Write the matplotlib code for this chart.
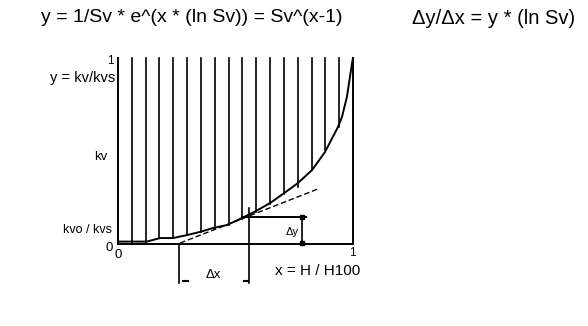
import numpy as np
import matplotlib
matplotlib.use("Agg")
import matplotlib.pyplot as plt

plt.rcParams['font.family'] = ['Liberation Sans', 'DejaVu Sans']

# Curve y = Sv^(x-1) as drawn
curve_x = [0.0, 0.123, 0.179, 0.234, 0.294, 0.349, 0.404, 0.464, 0.528, 0.587,
           0.647, 0.702, 0.766, 0.826, 0.881, 0.936, 0.953, 0.974, 0.996, 1.0]
curve_y = [0.013, 0.013, 0.032, 0.032, 0.048, 0.065, 0.086, 0.102, 0.140, 0.177,
           0.220, 0.269, 0.328, 0.398, 0.495, 0.629, 0.683, 0.790, 0.973, 1.0]

# Hatch lines (vertical) from the curve up to y = 1
hatch_x = [i / 17 for i in range(1, 17)]
hatch_y0 = [0.013, 0.013, 0.032, 0.032, 0.048, 0.065, 0.086, 0.102, 0.137, 0.172,
            0.215, 0.269, 0.306, 0.398, 0.505, 0.629]

# Tangent (dashed)
tangent_x = [0.264, 0.851]
tangent_y = [0.005, 0.296]

# Delta construction
dx_left, dx_right = 0.26, 0.557
dy_x = 0.783
dy_level = 0.145

W, H = 588, 326
fig = plt.figure(figsize=(W / 100, H / 100), dpi=100)
fig.patch.set_facecolor('white')
L, R, T, B = 118, 353, 58, 244
ax = fig.add_axes([L / W, 1 - B / H, (R - L) / W, (B - T) / H])
ax.set_xlim(0, 1)
ax.set_ylim(0, 1)
ax.axis('off')

k = 'black'
# frame: left axis, right edge, bottom
ax.plot([0, 0], [0, 1], color=k, lw=1.4, clip_on=False)
ax.plot([1, 1], [0, 1], color=k, lw=1.4, clip_on=False)
ax.plot([0, 1], [0, 0], color=k, lw=1.4, clip_on=False)

for hx, hy in zip(hatch_x, hatch_y0):
    ax.plot([hx, hx], [hy, 1], color=k, lw=1.2, clip_on=False)

ax.plot(curve_x, curve_y, color=k, lw=1.4, clip_on=False)
ax.plot(tangent_x, tangent_y, color=k, lw=1.0, ls=(0, (4, 2)), clip_on=False)

# Delta x lines
ax.plot([dx_left, dx_left], [0, -0.21], color=k, lw=1.2, clip_on=False)
ax.plot([dx_right, dx_right], [0.194, -0.21], color=k, lw=1.2, clip_on=False)
ax.plot([dx_left + 0.017, dx_left + 0.038], [-0.199, -0.199], color=k, lw=1.5, clip_on=False)
ax.plot([dx_right - 0.021, dx_right - 0.002], [-0.199, -0.199], color=k, lw=1.5, clip_on=False)

# Delta y construction
ax.plot([0.528, 0.80], [dy_level, dy_level], color=k, lw=1.4, clip_on=False)
ax.plot([dy_x, dy_x], [dy_level, 0.005], color=k, lw=1.2, marker='s', ms=3,
        clip_on=False)

fs = 9.5
ax.text(-0.013, 0.892, 'y = kv/kvs', ha='right', va='center', fontsize=fs + 1)
ax.text(-0.047, 0.468, 'kv', ha='right', va='center', fontsize=fs)
ax.text(-0.026, 0.075, 'kvo / kvs', ha='right', va='center', fontsize=fs - 0.5)
ax.text(-0.034, 0.984, '1', ha='center', va='center', fontsize=fs - 1)
ax.text(-0.036, -0.02, '0', ha='center', va='center', fontsize=fs)
ax.text(0.0, -0.058, '0', ha='center', va='center', fontsize=fs)
ax.text(0.996, -0.048, '1', ha='center', va='center', fontsize=fs - 1)
ax.text(0.668, -0.145, 'x = H / H100', ha='left', va='center', fontsize=fs + 1.5)
ax.text(0.404, -0.167, 'Δx', ha='center', va='center', fontsize=fs)
ax.text(0.74, 0.065, 'Δy', ha='center', va='center', fontsize=fs - 1.5)

fig.text(41 / W, 1 - 18 / H, 'y = 1/Sv * e^(x * (ln Sv)) = Sv^(x-1)',
         ha='left', va='center', fontsize=14)
fig.text(412 / W, 1 - 18 / H, 'Δy/Δx = y * (ln Sv)',
         ha='left', va='center', fontsize=14.5)

fig.savefig('out.png', dpi=100, facecolor='white')
